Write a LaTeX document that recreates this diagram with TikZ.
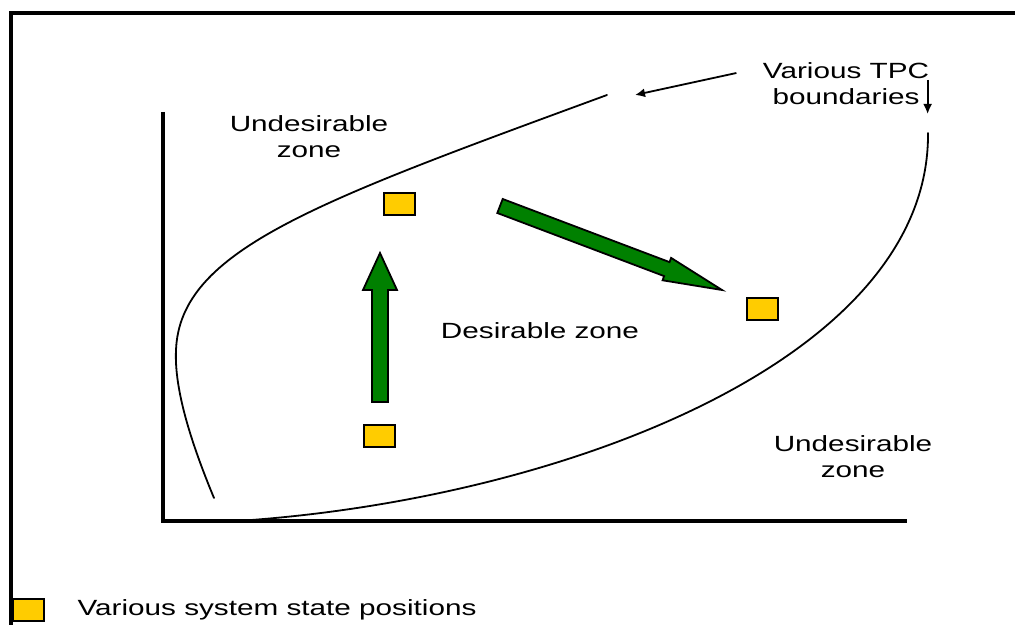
\documentclass[tikz,border=0pt]{standalone}
\usepackage{fontspec}
\setmainfont{Liberation Sans}
\usepackage{tikz}
\usetikzlibrary{positioning,arrows.meta}
\definecolor{stateyellow}{HTML}{FFCC00}
\definecolor{movegreen}{HTML}{008000}

\begin{document}
\begin{tikzpicture}[
  x=0.5pt, y=-0.5pt,
  zonetext/.style={font=\fontsize{11}{13}\selectfont, xscale=1.35, inner sep=0pt, align=center},
  statebox/.style={draw=black, line width=1pt, fill=stateyellow, inner sep=0pt,
    minimum width=15.5pt, minimum height=11pt},
  boundary/.style={line width=0.9pt, line cap=round},
  axis/.style={line width=1.7pt},
  pointer/.style={line width=0.9pt, -{Latex[length=5pt,width=4.5pt]}},
  movearrow/.style={fill=movegreen, draw=black, line width=0.9pt, line join=miter}
]
\useasboundingbox (0,0) rectangle (1015,625);

% Frame
\draw[axis] (11,625) -- (11,13) -- (1015,13);

% Axes
\draw[axis] (163,112) -- (163,521) -- (907,521);

% TPC boundaries
\draw[boundary] (214,498) .. controls (192,445) and (174,390) .. (176,350)
  .. controls (180,250) and (316,202) .. (607,95);
\draw[boundary] (237,521) .. controls (560,500) and (930,360) .. (928,133);

% State positions
\node[statebox] (sTop) at (399.5,204.5) {};
\node[statebox] (sLow) at (379.5,436) {};
\node[statebox] (sRight) at (762.5,308.5) {};

% Moves
\draw[movearrow] (372,402) -- (372,290) -- (363,290) -- (380,253)
  -- (397,290) -- (388,290) -- (388,402) -- cycle;
\draw[movearrow] (497.3,213.0) -- (664.1,276.1) -- (662.6,280.3) -- (722,290)
  -- (671.1,257.9) -- (669.5,262.1) -- (502.7,199.0) -- cycle;

% Zones
\node[zonetext] (uzTop) at (309,137) {Undesirable\\zone};
\node[zonetext] (dz) at (540,331) {Desirable zone};
\node[zonetext] (uzLow) at (853,457) {Undesirable\\zone};
\node[zonetext] (tpc) at (846,84) {Various TPC\\boundaries};

% Pointers to boundaries
\coordinate (tipA) at (635,95);
\coordinate (tipB) at (928,118);
\draw[pointer] ([xshift=-13pt, yshift=5.5pt]tpc.west) -- (tipA);
\draw[pointer] ([xshift=-1pt, yshift=2pt]tpc.east) -- ([xshift=-1pt, yshift=2pt]tpc.east |- tipB);

% Key
\node[statebox] (sKey) at (28.5,609.5) {};
\node[zonetext, anchor=west, right=16pt of sKey] (keyText) {Various system state positions};

\end{tikzpicture}
\end{document}
